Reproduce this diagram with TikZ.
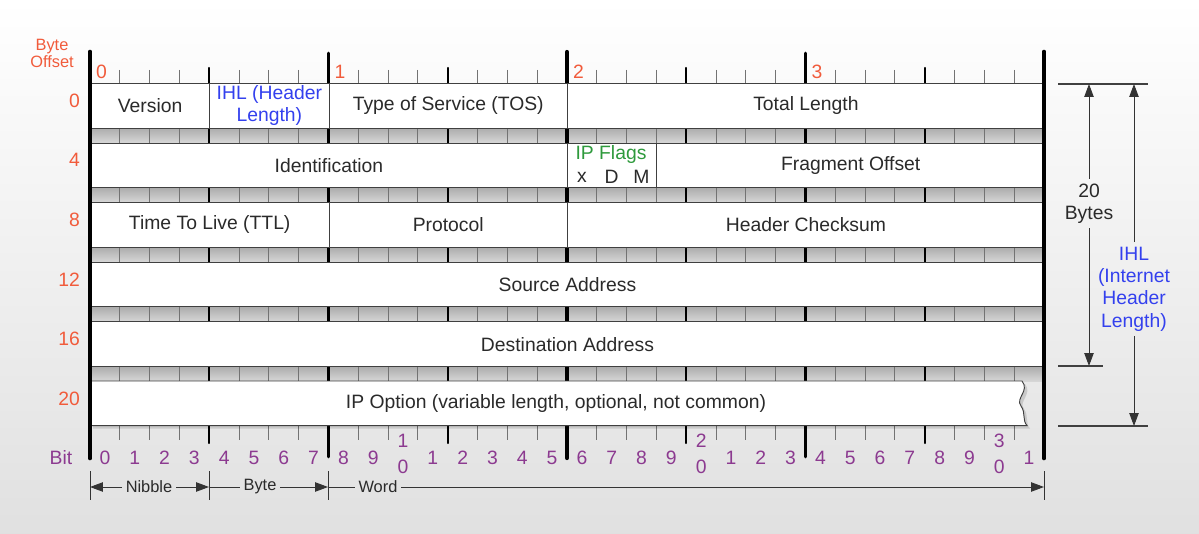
\documentclass[tikz,border=0pt]{standalone}
\usepackage{fontspec}
\setmainfont{Liberation Sans}
\usetikzlibrary{arrows.meta,positioning,calc}
\definecolor{offred}{HTML}{F15B3B}
\definecolor{ihlblue}{HTML}{3340EE}
\definecolor{flaggreen}{HTML}{2E9A3C}
\definecolor{bitpurple}{HTML}{8C3A90}
\definecolor{ink}{HTML}{2A2A2A}
\tikzset{
  field/.style={draw=black!75, line width=0.8pt, fill=white, anchor=north west, align=center,
    inner sep=0pt, minimum height=1.338cm, text=ink, font=\fontsize{16.5}{19}\selectfont},
  rowtext/.style={inner sep=0pt, align=center, text=ink, font=\fontsize{16.5}{19}\selectfont},
  offlab/.style={anchor=east, inner sep=0pt, text=offred, font=\fontsize{16.5}{19}\selectfont},
  bytelab/.style={anchor=west, inner sep=0pt, text=offred, font=\fontsize{16.5}{19}\selectfont},
  bitlab/.style={inner sep=0pt, text=bitpurple, font=\fontsize{16.5}{19}\selectfont},
  band/.style={top color=gray!66, bottom color=gray!32},
  bittick/.style={line width=0.8pt, black!55},
  frameline/.style={line width=4pt, line cap=round},
  refline/.style={line width=0.9pt, black!75},
  dimlab/.style={inner sep=3pt, text=ink, font=\fontsize{14}{17}\selectfont},
  dimline/.style={line width=0.8pt, black!80},
  dimarr/.style={dimline, -{Triangle[length=11pt,width=8pt]}},
}
\begin{document}
\begin{tikzpicture}[x=0.03cm,y=-0.03cm]
  \def\L{90}
  \def\R{1044}
  \def\bw{29.8125}
  \def\rh{44.6}
  \def\rp{59.6}
  \useasboundingbox (0,0) rectangle (1199,534);
  \shade[top color=white, middle color=white, bottom color=black!12] (0,0) rectangle (1199,534);
  \foreach \r in {0,...,4} {
    \pgfmathsetmacro{\ya}{83+\r*\rp+\rh}
    \pgfmathsetmacro{\yb}{83+(\r+1)*\rp}
    \shade[band] (\L,\ya) rectangle (\R,\yb);
  }
  \foreach \bit in {1,...,31} {
    \pgfmathsetmacro{\x}{\L+\bit*\bw}
    \draw[bittick] (\x,70) -- (\x,440);
  }
  \foreach \bit/\ya/\yb/\lw in {4/68/443/1.9, 8/53/457/2.5, 12/68/443/1.9, 16/52/458/3.6,
      20/68/443/1.9, 24/53/457/2.5, 28/68/443/1.9} {
    \pgfmathsetmacro{\x}{\L+\bit*\bw}
    \draw[line width=\lw pt, line cap=round] (\x,\ya) -- (\x,\yb);
  }
  \fill[black, opacity=0.13, shift={(3,3)}] (\L,381) -- (1022,381)
    .. controls (1030,391) and (1015,398) .. (1021,406)
    .. controls (1026,413) and (1022,420) .. (1027,425.6) -- (\L,425.6) -- cycle;
  \filldraw[draw=black!75, line width=0.8pt, fill=white] (\L,381) -- (1022,381)
    .. controls (1030,391) and (1015,398) .. (1021,406)
    .. controls (1026,413) and (1022,420) .. (1027,425.6) -- (\L,425.6) -- cycle;
  \foreach \nm/\rw/\fa/\fb/\col/\txt in {%
    {ver/0/0/4/ink/Version},
    {ihl/0/4/8/ihlblue/IHL (Header\\Length)},
    {tos/0/8/16/ink/Type of Service (TOS)},
    {tlen/0/16/32/ink/Total Length},
    {ident/1/0/16/ink/Identification},
    {flags/1/16/19/flaggreen/},
    {frag/1/19/32/ink/Fragment Offset},
    {ttl/2/0/8/ink/Time To Live (TTL)},
    {proto/2/8/16/ink/Protocol},
    {csum/2/16/32/ink/Header Checksum},
    {src/3/0/32/ink/Source Address},
    {dst/4/0/32/ink/Destination Address}} {
    \pgfmathsetmacro{\x}{\L+\fa*\bw}
    \pgfmathsetmacro{\y}{83+\rw*\rp}
    \pgfmathsetmacro{\fw}{(\fb-\fa)*\bw*0.03}
    \node[field, text=\col, minimum width=\fw cm] (\nm) at (\x,\y) {\txt};
  }
  \node[rowtext, text=flaggreen] (flagname) at (611,155) {IP Flags};
  \foreach \fl [count=\k from 0] in {x,D,M} {
    \pgfmathsetmacro{\x}{\L+(16.5+\k)*\bw}
    \node[rowtext] (flag\fl) at (\x,177) {\fl};
  }
  \node[rowtext] (opt) at (556,403.3) {IP Option (variable length, optional, not common)};
  \draw[frameline] (\L,52) -- (\L,458);
  \draw[frameline] (\R,52) -- (\R,458);
  \node[align=center, inner sep=0pt, text=offred, font=\fontsize{14}{15}\selectfont] (offhead) at (52,53.5) {Byte\\Offset};
  \foreach \off [count=\i from 0] in {0,4,8,12,16,20} {
    \pgfmathsetmacro{\y}{83+\i*\rp+17.5}
    \node[offlab] (off\off) at (80,\y) {\off};
  }
  \foreach \by in {0,...,3} {
    \pgfmathsetmacro{\x}{\L+\by*8*\bw+6}
    \node[bytelab] (byte\by) at (\x,72) {\by};
  }
  \node[bitlab] (bithead) at (61,458) {Bit};
  \foreach \bit in {0,...,31} {
    \pgfmathsetmacro{\x}{\L+(\bit+0.5)*\bw}
    \pgfmathtruncatemacro{\dig}{mod(\bit,10)}
    \pgfmathtruncatemacro{\tens}{\bit/10}
    \pgfmathtruncatemacro{\stk}{and(\dig==0,\bit>0)}
    \ifnum\stk=1
      \node[bitlab] (bit\bit) at (\x,441) {\tens};
      \node[bitlab] (bitz\bit) at (\x,467) {0};
    \else
      \node[bitlab] (bit\bit) at (\x,458) {\dig};
    \fi
  }
  % size of the header
  \draw[refline] (1058,84) -- (1148,84);
  \draw[refline] (1058,366) -- (1103,366);
  \draw[refline] (1058,426) -- (1148,426);
  \coordinate (bytestop) at (1089,84);
  \coordinate (bytesbot) at (1089,366);
  \coordinate (ihltop) at (1134,84);
  \coordinate (ihlbot) at (1134,426);
  \node[rowtext, inner sep=4pt] (twenty) at (1089,203.5) {20\\Bytes};
  \node[rowtext, inner sep=4pt, text=ihlblue] (ihlsize) at (1134,289) {IHL\\(Internet\\Header\\Length)};
  \draw[dimarr] (twenty.north) -- (bytestop);
  \draw[dimarr] (twenty.south) -- (bytesbot);
  \draw[dimarr] (ihlsize.north) -- (ihltop);
  \draw[dimarr] (ihlsize.south) -- (ihlbot);
  % nibble, byte, word
  \foreach \x in {90,209,328,1044} { \draw[dimline] (\x,471) -- (\x,500); }
  \coordinate (d0) at (90,487);
  \coordinate (d1) at (209,487);
  \coordinate (d2) at (328,487);
  \coordinate (d3) at (1044,487);
  \node[dimlab] (nib) at (149,487) {Nibble};
  \node[dimlab] (byt) at (260,487) {Byte};
  \node[dimlab] (wrd) at (378,487) {Word};
  \draw[dimarr] (nib.west) -- (d0);
  \draw[dimarr] (nib.east) -- (d1);
  \draw[dimline] (d1) -- (byt.west);
  \draw[dimarr] (byt.east) -- (d2);
  \draw[dimline] (d2) -- (wrd.west);
  \draw[dimarr] (wrd.east) -- (d3);
\end{tikzpicture}
\end{document}
